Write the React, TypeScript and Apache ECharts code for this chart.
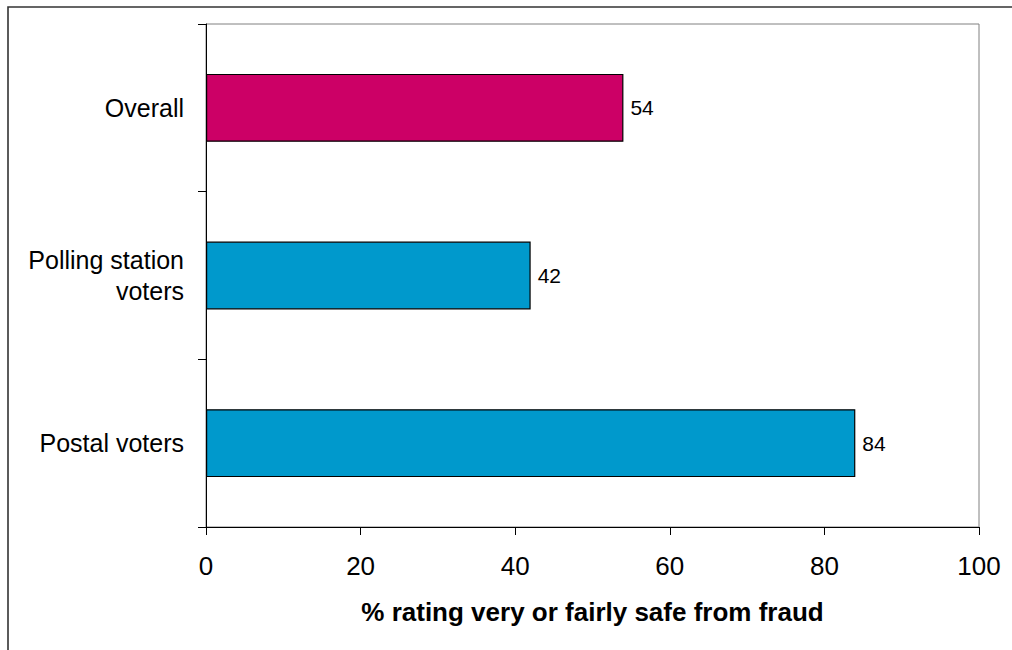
import React, { useEffect, useRef } from "react";
import * as echarts from "echarts";

const categories = ["Overall", "Polling station\nvoters", "Postal voters"];
const values = [54, 42, 84];
const barColors = ["#CC0066", "#0099CC", "#0099CC"];
const xTicks = [0, 20, 40, 60, 80, 100];
const axisTitle = "% rating very or fairly safe from fraud";

const FONT = "Arial, 'Liberation Sans', Helvetica, sans-serif";

export default function App() {
  const ref = useRef<HTMLDivElement>(null);
  useEffect(() => {
    if (!ref.current) return;
    const chart = echarts.init(ref.current, null, { renderer: "svg" });
    chart.setOption({
      animation: false,
      backgroundColor: "#ffffff",
      textStyle: { fontFamily: FONT },
      graphic: [
        {
          type: "rect",
          shape: { x: 8, y: 7, width: 1100, height: 700 },
          style: { fill: "none", stroke: "#333333", lineWidth: 1.6 },
          silent: true,
        },
      ],
      grid: {
        left: 206,
        right: 33,
        top: 24,
        bottom: 123,
        show: true,
        borderColor: "#808080",
        borderWidth: 1,
        backgroundColor: "transparent",
      },
      xAxis: {
        type: "value",
        min: xTicks[0],
        max: xTicks[xTicks.length - 1],
        interval: 20,
        splitLine: { show: false },
        axisLine: { show: true, lineStyle: { color: "#000000", width: 1 } },
        axisTick: { show: true, length: 8, lineStyle: { color: "#000000" } },
        axisLabel: { color: "#000000", fontSize: 26, margin: 26, fontFamily: FONT },
        name: axisTitle,
        nameLocation: "middle",
        nameGap: 72,
        nameTextStyle: { color: "#000000", fontSize: 26, fontWeight: "bold", fontFamily: FONT },
      },
      yAxis: {
        type: "category",
        data: categories,
        inverse: true,
        axisLine: { show: true, lineStyle: { color: "#000000", width: 1 } },
        axisTick: { show: true, length: 8, alignWithLabel: false, lineStyle: { color: "#000000" } },
        axisLabel: {
          color: "#000000",
          fontSize: 25,
          margin: 22,
          lineHeight: 31,
          align: "right",
          fontFamily: FONT,
        },
        splitLine: { show: false },
      },
      series: [
        {
          type: "bar",
          barWidth: "40.5%",
          data: values.map((v, i) => ({
            value: v,
            itemStyle: { color: barColors[i], borderColor: "#000000", borderWidth: 1.2 },
          })),
          label: {
            show: true,
            position: "right",
            distance: 7,
            color: "#000000",
            fontSize: 21,
            fontFamily: FONT,
          },
        },
      ],
    });
    return () => chart.dispose();
  }, []);
  return (
    <div
      ref={ref}
      style={{ position: "fixed", left: 0, top: 0, width: 1012, height: 650 }}
    />
  );
}
